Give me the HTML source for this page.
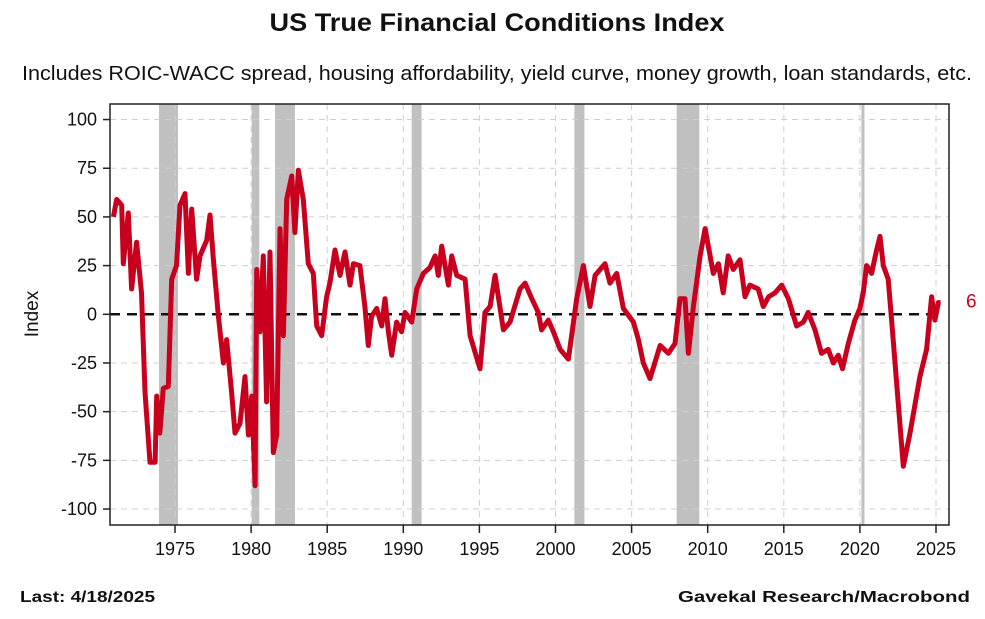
<!DOCTYPE html>
<html><head><meta charset="utf-8"><style>
body{margin:0;background:#fff;}
svg text{font-family:"Liberation Sans Narrow","Liberation Sans",sans-serif;}
</style></head><body>
<svg id="chart" width="985" height="614" xmlns="http://www.w3.org/2000/svg">
<text x="497" y="31" text-anchor="middle" font-size="25" font-weight="bold" fill="#111" textLength="455" lengthAdjust="spacingAndGlyphs">US True Financial Conditions Index</text>
<text x="497" y="80" text-anchor="middle" font-size="20" fill="#111" textLength="950" lengthAdjust="spacingAndGlyphs">Includes ROIC-WACC spread, housing affordability, yield curve, money growth, loan standards, etc.</text>
<text x="38" y="314" text-anchor="middle" font-size="19" fill="#111" transform="rotate(-90 38 314)">Index</text>
<text x="20" y="602" font-size="16" font-weight="bold" fill="#111" textLength="135" lengthAdjust="spacingAndGlyphs">Last: 4/18/2025</text>
<text x="970" y="602" text-anchor="end" font-size="16" font-weight="bold" fill="#111" textLength="292" lengthAdjust="spacingAndGlyphs">Gavekal Research/Macrobond</text>
<g id="plot"></g>
</svg>
<script>
const recessionStarts=[1973.95,1980.04,1981.57,1990.55,2001.24,2007.96,2020.1];
const recessionEnds=[1975.2,1980.54,1982.88,1991.2,2001.9,2009.45,2020.3];
const yTicks=[100,75,50,25,0,-25,-50,-75,-100];
const xTicks=[1975,1980,1985,1990,1995,2000,2005,2010,2015,2020,2025];
const years=[1970.95,1971.17,1971.5,1971.6,1971.93,1972.15,1972.48,1972.8,1973.03,1973.36,1973.69,1973.8,1974.0,1974.23,1974.56,1974.78,1975.1,1975.33,1975.66,1975.88,1976.1,1976.42,1976.64,1977.08,1977.3,1977.52,1977.85,1978.18,1978.39,1978.72,1978.94,1979.27,1979.6,1979.82,1980.04,1980.26,1980.37,1980.58,1980.8,1981.02,1981.24,1981.46,1981.68,1981.9,1982.12,1982.34,1982.67,1982.88,1983.1,1983.43,1983.76,1984.09,1984.31,1984.64,1984.96,1985.18,1985.51,1985.84,1986.17,1986.5,1986.72,1987.15,1987.48,1987.7,1987.92,1988.25,1988.58,1988.8,1989.02,1989.24,1989.56,1989.89,1990.11,1990.55,1990.88,1991.32,1991.75,
1992.09,1992.3,1992.52,1992.96,1993.18,1993.51,1994.06,1994.39,1995.04,1995.37,1995.7,1996.03,1996.58,1997.01,1997.67,1998.0,1998.44,1998.87,1999.09,1999.53,1999.86,2000.3,2000.85,2001.39,2001.83,2002.27,2002.6,2002.93,2003.25,2003.58,2004.02,2004.46,2005.12,2005.45,2005.77,2006.21,2006.87,2007.42,2007.85,2008.18,2008.51,2008.73,2009.06,2009.5,2009.83,
2010.37,2010.7,2011.02,2011.35,2011.68,2012.12,2012.45,2012.77,2013.32,2013.65,2014.0,2014.42,2014.86,2015.3,2015.84,2016.28,2016.6,2017.05,2017.48,2017.92,2018.25,2018.58,2018.86,2019.24,2019.67,2020.0,2020.22,2020.44,2020.77,2021.1,2021.32,2021.54,2021.86,2022.08,2022.41,2022.85,2023.29,2023.94,2024.38,2024.71,2024.93,2025.15,2025.3];
const values=[50,59,56,26,52,13,37,11,-40,-76,-76,-42,-61,-38,-37,18,25,56,62,21,54,18,30,38,51,28,-1,-25,-13,-40,-61,-56,-32,-62,-42,-88,23,-9,30,-45,32,-71,-62,44,-11,59,71,42,74,59,26,21,-6,-11,9,16,33,20,32,15,26,25,4,-16,-1,3,-6,8,-9,-21,-4,-9,1,-4,13,21,24,
30,20,35,15,30,20,18,-11,-28,1,4,20,-8,-4,13,16,8,1,-8,-3,-9,-18,-23,8,25,4,20,23,26,16,21,3,-4,-13,-25,-33,-16,-20,-15,8,8,-20,4,30,44,
21,26,11,30,23,28,9,15,13,4,9,11,15,8,-6,-4,1,-8,-20,-18,-25,-21,-28,-15,-3,3,11,25,21,33,40,25,18,-3,-35,-78,-61,-32,-18,9,-3,6,6];
const lastLabel="6";
const L=110,T=104,R=949,B=525;
const xs=y=>175+(y-1975)*15.22;
const ys=v=>314.3-v*1.9475;
const NS="http://www.w3.org/2000/svg";
const g=document.getElementById('plot');
function mk(tag,attrs){const e=document.createElementNS(NS,tag);for(const k in attrs)e.setAttribute(k,attrs[k]);g.appendChild(e);return e;}
recessionStarts.forEach((s,i)=>{
 const r=mk('rect',{x:xs(s),y:T,width:Math.max(2,xs(recessionEnds[i])-xs(s)),height:B-T,fill:'#c0c0c0'});
 
 
});
yTicks.forEach(v=>{
 if(v!==0){const l=mk('line',{x1:L,x2:R,y1:ys(v),y2:ys(v),stroke:'#cfcfcf','stroke-dasharray':'6 5','stroke-width':1});
 
 }
 const t=mk('line',{x1:L-7,x2:L,y1:ys(v),y2:ys(v),stroke:'#222','stroke-width':1.5});
 
 
 const tx=mk('text',{x:L-13,y:ys(v)+6,'text-anchor':'end','font-size':18,fill:'#111'});
 tx.textContent=v;
 
 
});
xTicks.forEach(y=>{
 const l=mk('line',{x1:xs(y),x2:xs(y),y1:T,y2:B,stroke:'#cfcfcf','stroke-dasharray':'6 5','stroke-width':1});
 
 
 const t=mk('line',{x1:xs(y),x2:xs(y),y1:B,y2:B+8,stroke:'#222','stroke-width':1.5});
 
 
 const tx=mk('text',{x:xs(y),y:B+30,'text-anchor':'middle','font-size':18,fill:'#111'});
 tx.textContent=y;
 
 
});
const z=mk('line',{x1:L,x2:R-12,y1:ys(0),y2:ys(0),stroke:'#111','stroke-width':2.5,'stroke-dasharray':'10 7'});


const d=years.map((y,i)=>(i?'L':'M')+xs(y).toFixed(1)+' '+ys(values[i]).toFixed(1)).join(' ');
const p=mk('path',{d:d,fill:'none',stroke:'#c8001e','stroke-width':5,'stroke-linejoin':'round'});


const f=mk('rect',{x:L,y:T,width:R-L,height:B-T,fill:'none',stroke:'#222','stroke-width':1.5});


const lv=mk('text',{x:966,y:ys(values[values.length-1])+5,'font-size':19,fill:'#c8001e'});
lv.textContent=lastLabel;


</script>
</body></html>
